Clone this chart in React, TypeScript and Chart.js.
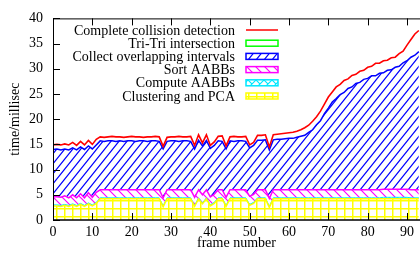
import React, { useEffect, useRef } from 'react';
import { Chart, registerables } from 'chart.js';

Chart.register(...registerables);

const FONT = '"Liberation Serif", "Times New Roman", serif';

// Per-frame timing components (ms), stacked from bottom to top
const clusteringPCA = [
  2.8, 2.8, 2.7, 2.9, 2.7, 3.0, 2.7, 3.1, 2.7, 3.2, 2.8, 3.3,
  4.2, 4.2, 4.2, 4.2, 4.2, 4.2, 4.2, 4.2, 4.2, 4.2, 4.2, 4.2, 4.2, 4.2, 4.2, 4.2,
  2.6,
  4.2, 4.2, 4.2, 4.2, 4.2, 4.2, 4.2,
  2.7, 4.2, 3.2, 4.2, 2.8, 3.3, 4.2, 4.2, 2.7,
  4.2, 4.2, 4.2, 4.2, 4.2,
  2.9, 3.3,
  4.2, 4.2, 4.2,
  2.5,
  4.2, 4.2, 4.2, 4.2, 4.2, 4.2, 4.2, 4.2, 4.2, 4.2, 4.2, 4.2, 4.2, 4.2, 4.2, 4.2, 4.2, 4.2, 4.2,
  4.2, 4.2, 4.2, 4.2, 4.2, 4.2, 4.2, 4.2, 4.2, 4.2, 4.2, 4.2, 4.2, 4.2, 4.2, 4.2, 4.2, 4.2, 4.2, 4.2,
];

const computeAABBs = [
  0.2, 0.2, 0.2, 0.2, 0.2, 0.2, 0.2, 0.2, 0.2, 0.2, 0.2, 0.2,
  0.2, 0.2, 0.2, 0.2, 0.2, 0.2, 0.2, 0.2, 0.2, 0.2, 0.2, 0.2, 0.2, 0.2, 0.2, 0.2,
  0.2,
  0.2, 0.2, 0.2, 0.2, 0.2, 0.2, 0.2,
  0.2, 0.2, 0.2, 0.2, 0.2, 0.2, 0.2, 0.2, 0.2,
  0.2, 0.2, 0.2, 0.2, 0.2,
  0.2, 0.2,
  0.2, 0.2, 0.2,
  0.2,
  0.2, 0.2, 0.2, 0.2, 0.2, 0.2, 0.2, 0.2, 0.2, 0.2, 0.2, 0.2, 0.2, 0.2, 0.2, 0.2, 0.2, 0.2, 0.2,
  0.2, 0.2, 0.2, 0.2, 0.2, 0.2, 0.2, 0.2, 0.2, 0.3, 0.3, 0.3, 0.3, 0.3, 0.3, 0.3, 0.2, 0.2, 0.2, 0.2,
];

const sortAABBs = [
  1.6, 1.6, 1.6, 1.7, 1.5, 1.8, 1.5, 1.9, 1.5, 2.0, 1.5, 2.0,
  1.6, 1.6, 1.6, 1.6, 1.6, 1.6, 1.6, 1.6, 1.6, 1.6, 1.6, 1.6, 1.6, 1.6, 1.6, 1.6,
  1.6,
  1.6, 1.6, 1.6, 1.6, 1.6, 1.6, 1.6,
  1.6, 1.6, 1.6, 1.6, 1.6, 1.6, 1.6, 1.6, 1.6,
  1.6, 1.6, 1.6, 1.6, 1.6,
  1.6, 1.6,
  1.6, 1.6, 1.6,
  1.6,
  1.6, 1.6, 1.6, 1.6, 1.6, 1.6, 1.6, 1.6, 1.6, 1.6, 1.6, 1.6, 1.6, 1.6, 1.6, 1.6, 1.6, 1.6, 1.6,
  1.6, 1.6, 1.6, 1.6, 1.6, 1.6, 1.6, 1.6, 1.6, 1.6, 1.6, 1.6, 1.6, 1.6, 1.6, 1.6, 1.6, 1.6, 1.6, 1.6,
];

const collectIntervals = [
  9.4, 9.5, 9.4, 9.3, 9.5, 9.3, 9.5, 9.3, 9.6, 9.3, 9.6, 9.4,
  9.7, 9.6, 9.7, 9.7, 9.6, 9.7, 9.6, 9.7, 9.7, 9.6, 9.7, 9.7, 9.6, 9.7, 9.7, 9.6,
  9.7,
  9.6, 9.7, 9.7, 9.6, 9.7, 9.7, 9.6,
  9.6, 9.8, 9.7, 9.8, 9.6, 9.7, 9.7, 9.6, 9.6,
  9.7, 9.6, 9.7, 9.7, 9.6,
  9.6, 9.7,
  9.8, 9.8, 9.9,
  9.6,
  9.9, 10.0, 10.0, 10.1, 10.2, 10.2, 10.4, 10.6, 10.8, 11.4, 11.9, 12.9, 13.7, 15.1, 16.2, 17.4, 18.1, 18.9, 19.3,
  20.1, 20.4, 21.1, 21.3, 21.9, 22.1, 22.6, 22.6, 23.1, 23.1, 23.6, 23.7, 24.2, 24.4, 25.1, 25.5, 26.3, 26.7, 27.4,
];

const triTri = [
  0.9, 0.9, 1.0, 1.0, 1.0, 1.1, 0.9, 1.1, 0.9, 1.1, 0.9, 1.1,
  0.9, 0.9, 0.9, 0.9, 0.9, 0.9, 0.9, 0.9, 0.9, 0.9, 0.9, 0.9, 0.9, 0.9, 0.9, 0.9,
  0.6,
  0.9, 0.9, 0.9, 0.9, 0.9, 0.9, 0.9,
  0.6, 0.9, 0.6, 0.9, 0.6, 0.6, 0.9, 0.9, 0.6,
  0.9, 0.9, 0.9, 0.9, 0.9,
  0.6, 0.6,
  0.9, 0.9, 0.9,
  0.6,
  1.0, 1.0, 1.1, 1.1, 1.1, 1.2, 1.2, 1.3, 1.5, 1.4, 1.7, 1.6, 1.9, 1.9, 2.2, 2.0, 2.3, 2.0, 2.4,
  1.9, 2.3, 1.8, 2.2, 1.8, 2.2, 1.9, 2.5, 2.0, 2.5, 2.1, 2.5, 2.1, 2.6, 2.4, 3.2, 3.5, 4.2, 4.2,
];

const completeCollision = [
  14.9, 15.0, 14.9, 15.1, 14.9, 15.4, 14.8, 15.6, 14.9, 15.8, 15.0, 16.0,
  16.5, 16.4, 16.5, 16.6, 16.5, 16.5, 16.4, 16.5, 16.6, 16.5, 16.5, 16.4, 16.5, 16.5, 16.6, 16.5,
  14.6,
  16.4, 16.5, 16.5, 16.6, 16.5, 16.5, 16.6,
  14.8, 16.9, 15.3, 16.9, 14.8, 15.5, 16.6, 16.7, 14.7,
  16.5, 16.6, 16.5, 16.5, 16.6,
  14.9, 15.4,
  16.8, 16.8, 16.9,
  14.5,
  16.9, 17.0, 17.1, 17.2, 17.3, 17.4, 17.6, 17.9, 18.3, 18.8, 19.6, 20.5, 21.6, 23.0, 24.4, 25.4, 26.4, 26.9, 27.7,
  28.0, 28.7, 28.9, 29.5, 29.7, 30.3, 30.5, 31.1, 31.1, 31.6, 31.7, 32.2, 32.3, 33.0, 33.5, 34.7, 35.8, 36.9, 37.6,
];

const seriesLabels = [
  'Clustering and PCA',
  'Compute AABBs',
  'Sort AABBs',
  'Collect overlapping intervals',
  'Tri-Tri intersection',
  'Complete collision detection',
];
const seriesColors = ['#ffff00', '#00e8ff', '#ff00ff', '#0000ff', '#00ff00', '#ff0000'];

const xTickValues = [0, 10, 20, 30, 40, 50, 60, 70, 80, 90];
const yTickValues = [0, 5, 10, 15, 20, 25, 30, 35, 40];

function makePattern(kind: string, color: string): CanvasPattern | string {
  const c = document.createElement('canvas');
  let w = 8;
  let h = 8;
  if (kind === 'fwd') { w = 8; h = 10; }
  if (kind === 'back') { w = 9; h = 9; }
  c.width = w;
  c.height = h;
  const g = c.getContext('2d');
  if (!g) return color;
  g.strokeStyle = color;
  g.lineWidth = kind === 'grid' ? 1.5 : 1.2;
  g.beginPath();
  if (kind === 'grid') {
    g.moveTo(0.75, 0); g.lineTo(0.75, h);
    g.moveTo(0, 0.75); g.lineTo(w, 0.75);
  }
  for (let k = -1; k <= 1; k++) {
    if (kind === 'fwd' || kind === 'cross') {
      g.moveTo(k * w - w, 2 * h); g.lineTo(k * w + 2 * w, -h);
    }
    if (kind === 'back' || kind === 'cross') {
      g.moveTo(k * w - w, -h); g.lineTo(k * w + 2 * w, 2 * h);
    }
  }
  g.stroke();
  return g.createPattern(c, 'repeat') || color;
}

const framePlugin = {
  id: 'gpFrame',
  afterDatasetsDraw(chart: any) {
    const { ctx, chartArea, scales } = chart;
    const { left, right, top, bottom } = chartArea;
    ctx.save();
    ctx.strokeStyle = '#000';
    ctx.lineWidth = 1;
    ctx.beginPath();
    ctx.moveTo(left + 0.5, top); ctx.lineTo(left + 0.5, bottom);
    ctx.moveTo(left, top + 0.5); ctx.lineTo(right, top + 0.5);
    for (const v of yTickValues) {
      const py = Math.round(scales.y.getPixelForValue(v)) + 0.5;
      ctx.moveTo(left, py); ctx.lineTo(left + 7, py);
    }
    for (const v of xTickValues) {
      const px = Math.round(scales.x.getPixelForValue(v)) + 0.5;
      ctx.moveTo(px, bottom); ctx.lineTo(px, bottom - 7);
      ctx.moveTo(px, top); ctx.lineTo(px, top + 7);
    }
    ctx.stroke();
    ctx.lineWidth = 1.5;
    ctx.beginPath();
    ctx.moveTo(left, bottom); ctx.lineTo(right, bottom);
    ctx.stroke();
    ctx.restore();
  },
};

const legendPlugin = {
  id: 'gpLegend',
  afterDraw(chart: any) {
    const { ctx } = chart;
    const ds = chart.data.datasets;
    const textRight = 235;
    const boxL = 246;
    const boxR = 278;
    const y0 = 30;
    const step = 13.2;
    ctx.save();
    ctx.font = `14px ${FONT}`;
    ctx.textAlign = 'right';
    ctx.textBaseline = 'middle';
    for (let k = 0; k < ds.length; k++) {
      const d = ds[ds.length - 1 - k];
      const y = y0 + k * step;
      ctx.fillStyle = '#000';
      ctx.fillText(d.label, textRight, y + 1);
      if (d.legendKind === 'line') {
        ctx.strokeStyle = d.borderColor;
        ctx.lineWidth = 1.5;
        ctx.beginPath();
        ctx.moveTo(boxL, y); ctx.lineTo(boxR, y);
        ctx.stroke();
      } else {
        ctx.fillStyle = d.backgroundColor;
        ctx.fillRect(boxL, y - 3, boxR - boxL, 6);
        ctx.strokeStyle = d.borderColor;
        ctx.lineWidth = 1.5;
        ctx.strokeRect(boxL, y - 3, boxR - boxL, 6);
      }
    }
    ctx.restore();
  },
};

export default function App() {
  const ref = useRef<HTMLCanvasElement | null>(null);

  useEffect(() => {
    if (!ref.current) return;
    const frames = completeCollision.map((_, i) => i);
    const pts = (arr: number[]) => arr.map((v, i) => ({ x: frames[i], y: v }));
    const patterns = [
      makePattern('grid', seriesColors[0]),
      makePattern('cross', seriesColors[1]),
      makePattern('back', seriesColors[2]),
      makePattern('fwd', seriesColors[3]),
    ];
    const chart = new Chart(ref.current, {
      type: 'line',
      data: {
        datasets: [
          { label: seriesLabels[0], data: pts(clusteringPCA), stack: 'parts', fill: 'origin', backgroundColor: patterns[0], borderColor: seriesColors[0], borderWidth: 1.5 },
          { label: seriesLabels[1], data: pts(computeAABBs), stack: 'parts', fill: '-1', backgroundColor: patterns[1], borderColor: seriesColors[1], borderWidth: 1 },
          { label: seriesLabels[2], data: pts(sortAABBs), stack: 'parts', fill: '-1', backgroundColor: patterns[2], borderColor: seriesColors[2], borderWidth: 1.5 },
          { label: seriesLabels[3], data: pts(collectIntervals), stack: 'parts', fill: '-1', backgroundColor: patterns[3], borderColor: seriesColors[3], borderWidth: 1.5 },
          { label: seriesLabels[4], data: pts(triTri), stack: 'parts', fill: false, backgroundColor: 'rgba(255,255,255,0)', borderColor: seriesColors[4], borderWidth: 0 },
          { label: seriesLabels[5], data: pts(completeCollision), stack: 'total', fill: false, borderColor: seriesColors[5], borderWidth: 1.6, order: -1, legendKind: 'line' } as any,
        ] as any,
      },
      options: {
        responsive: false,
        animation: false,
        layout: { padding: { top: 7, left: 0, right: 0, bottom: 0 } },
        plugins: { legend: { display: false }, tooltip: { enabled: false } },
        elements: { point: { radius: 0 }, line: { tension: 0 } },
        scales: {
          x: {
            type: 'linear',
            min: 0,
            max: 93.3,
            grid: { display: false, drawTicks: false },
            border: { display: false },
            afterBuildTicks: (s: any) => { s.ticks = xTickValues.map((v) => ({ value: v })); },
            ticks: { font: { family: FONT, size: 14 }, color: '#000', padding: 4, maxRotation: 0, autoSkip: false },
            title: { display: true, text: 'frame number', font: { family: FONT, size: 14 }, color: '#000', padding: { top: 0, bottom: 6 } },
            afterFit: (s: any) => { s.height = 38; },
          },
          y: {
            stacked: true,
            min: 0,
            max: 40,
            grid: { display: false, drawTicks: false },
            border: { display: false },
            afterBuildTicks: (s: any) => { s.ticks = yTickValues.map((v) => ({ value: v })); },
            ticks: { font: { family: FONT, size: 14 }, color: '#000', padding: 10 },
            title: { display: true, text: 'time/millisec', font: { family: FONT, size: 14 }, color: '#000', padding: { top: 7, bottom: 0 } },
            afterFit: (s: any) => { s.width = 53; },
          },
        },
      } as any,
      plugins: [framePlugin, legendPlugin],
    });
    return () => chart.destroy();
  }, []);

  return (
    <div style={{ position: 'absolute', left: 0, top: 0, width: 420, height: 258, background: '#fff' }}>
      <canvas ref={ref} width={420} height={258} style={{ display: 'block' }} />
    </div>
  );
}
